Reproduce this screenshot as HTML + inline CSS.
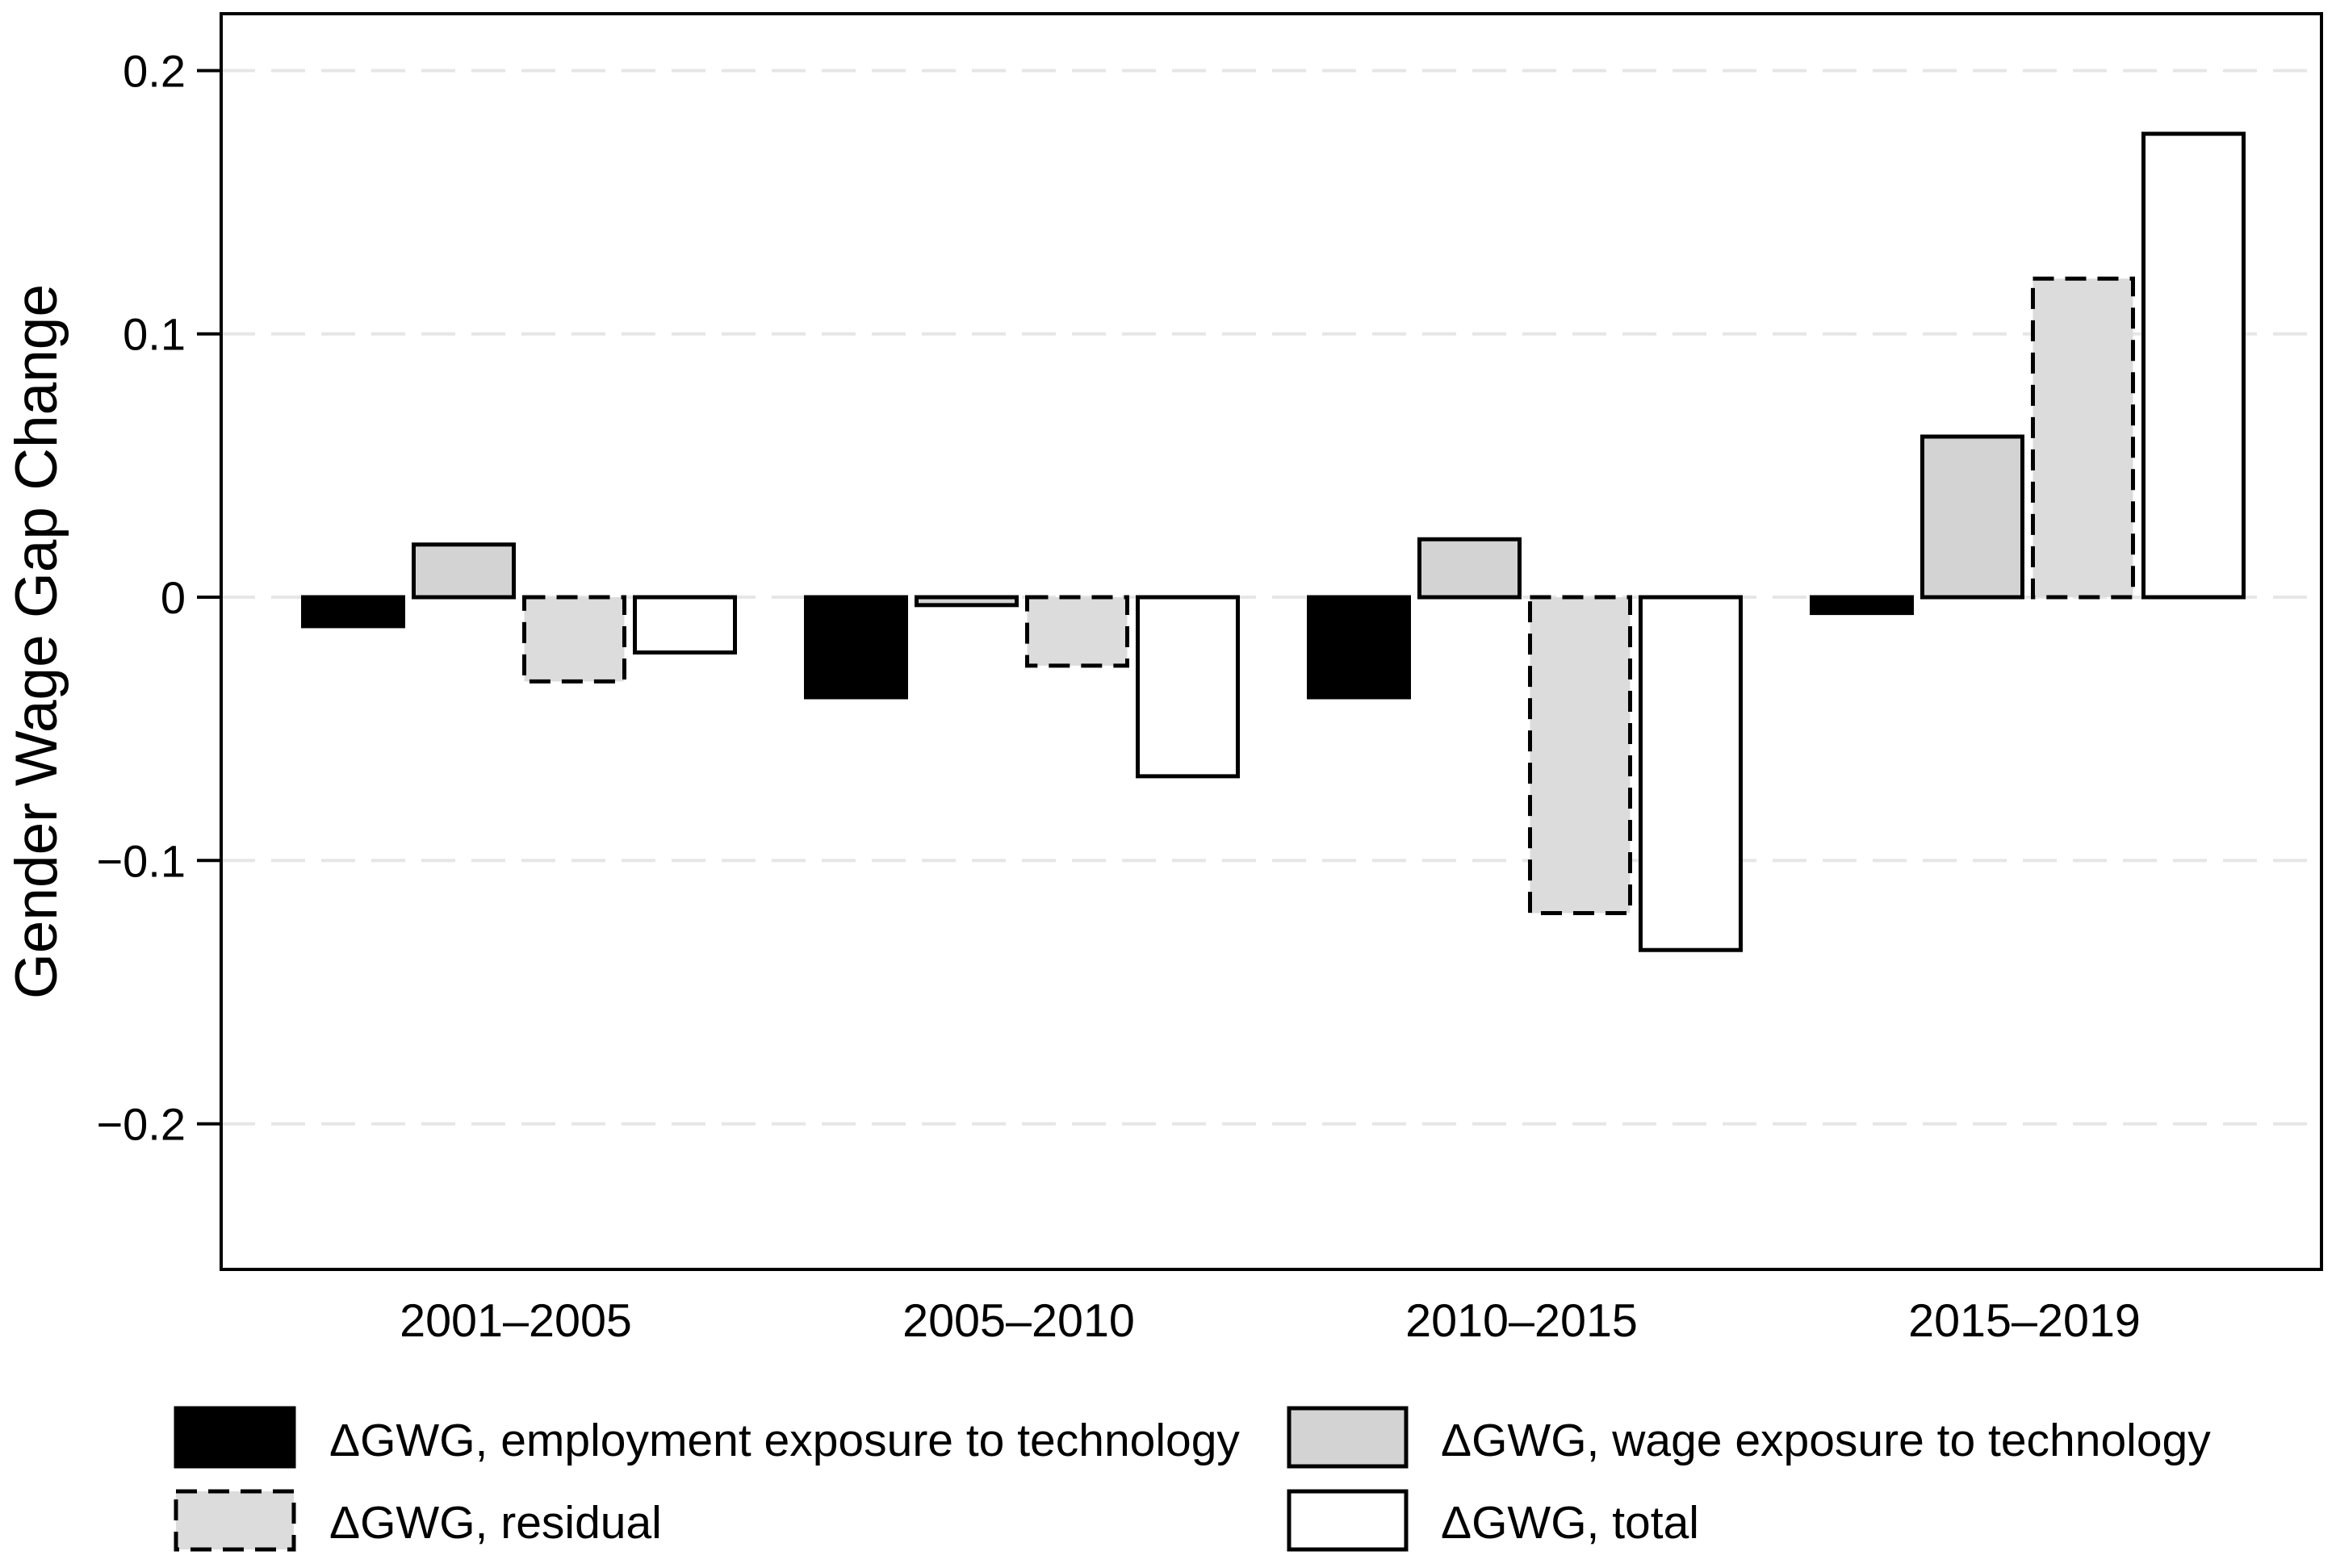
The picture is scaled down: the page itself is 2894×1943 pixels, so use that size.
<!DOCTYPE html>
<html><head><meta charset="utf-8"><style>
html,body{margin:0;padding:0;background:#fff;}
svg text{font-family:"Liberation Sans",Arial,sans-serif;fill:#000;}
</style></head><body>
<svg id="chart" width="2894" height="1938" viewBox="0 0 2894 1938" xmlns="http://www.w3.org/2000/svg">
<rect x="0" y="0" width="2894" height="1938" fill="#fff"/>
<g id="grid"></g>
<g id="bars"></g>
<g id="axes"></g>
<text x="0" y="0" transform="translate(70,795) rotate(-90)" text-anchor="middle" font-size="73">Gender Wage Gap Change</text>
<g>
 <g>
  <rect x="218" y="1745" width="146" height="72" fill="#000" stroke="#000" stroke-width="5"/>
  <text x="408" y="1804" font-size="57">ΔGWG, employment exposure to technology</text>
 </g>
 <g>
  <rect x="1597" y="1745" width="145" height="72" fill="#d3d3d3" stroke="#000" stroke-width="5"/>
  <text x="1785" y="1804" font-size="57">ΔGWG, wage exposure to technology</text>
 </g>
 <g>
  <rect x="218" y="1848" width="146" height="72" fill="#dcdcdc" stroke="#000" stroke-width="5" stroke-dasharray="26,14"/>
  <text x="408" y="1906" font-size="57">ΔGWG, residual</text>
 </g>
 <g>
  <rect x="1597" y="1848" width="145" height="72" fill="#fff" stroke="#000" stroke-width="5"/>
  <text x="1785" y="1906" font-size="57">ΔGWG, total</text>
 </g>
</g>
</svg>
<script>
const categories = ["2001–2005","2005–2010","2010–2015","2015–2019"];
const employment = [-0.011,-0.038,-0.038,-0.006];
const wage = [0.020,-0.003,0.022,0.061];
const residual = [-0.032,-0.026,-0.120,0.121];
const total = [-0.021,-0.068,-0.134,0.176];
const yTicks = [0.2,0.1,0,-0.1,-0.2];
const yTickLabels = ["0.2","0.1","0","\u22120.1","\u22120.2"];

const NS="http://www.w3.org/2000/svg";
const L=274,R=2876,T=17,B=1573;
const yMin=-0.2553,yMax=0.2216;
function y(v){return B-(v-yMin)/(yMax-yMin)*(B-T);}
const groupW=623, firstCenter=643;
function gx(i){return firstCenter+i*groupW;}
const slot=137,barW=124;
function mk(tag,attrs,parent){const e=document.createElementNS(NS,tag);for(const k in attrs)e.setAttribute(k,attrs[k]);parent.appendChild(e);return e;}
const grid=document.getElementById('grid'),bars=document.getElementById('bars'),axes=document.getElementById('axes');
yTicks.forEach((t,i)=>{
  const ln=mk('line',{x1:L,x2:R,y1:y(t),y2:y(t),stroke:'#e6e6e6','stroke-width':4,'stroke-dasharray':'42,20'},grid);
  
  
  const tk=mk('line',{x1:244,x2:L,y1:y(t),y2:y(t),stroke:'#000','stroke-width':4},axes);
  
  
  const tx=mk('text',{x:230,y:y(t)+20,'text-anchor':'end','font-size':56},axes);
  tx.textContent=yTickLabels[i];
  
  
});
const series=[
 {d:employment,fill:'#000',dash:null,name:'employment'},
 {d:wage,fill:'#d3d3d3',dash:null,name:'wage'},
 {d:residual,fill:'#dcdcdc',dash:'26,14',name:'residual'},
 {d:total,fill:'#fff',dash:null,name:'total'}];
categories.forEach((c,i)=>{
  series.forEach((s,k)=>{
    const x0=gx(i)-2*slot+k*slot+(slot-barW)/2;
    const v=s.d[i];
    const y1=Math.min(y(v),y(0)),h=Math.max(Math.abs(y(v)-y(0)),3);
    const r=mk('rect',{x:x0,y:y1,width:barW,height:h,fill:s.fill,stroke:'#000','stroke-width':5},bars);
    if(s.dash)r.setAttribute('stroke-dasharray',s.dash);
    
    
  });
  const t=mk('text',{x:gx(i)-4,y:1656,'text-anchor':'middle','font-size':57.5},axes);
  t.textContent=c;
  
  
});
const frame=mk('rect',{x:L,y:T,width:R-L,height:B-T,fill:'none',stroke:'#000','stroke-width':4},axes);


</script>
</body></html>
